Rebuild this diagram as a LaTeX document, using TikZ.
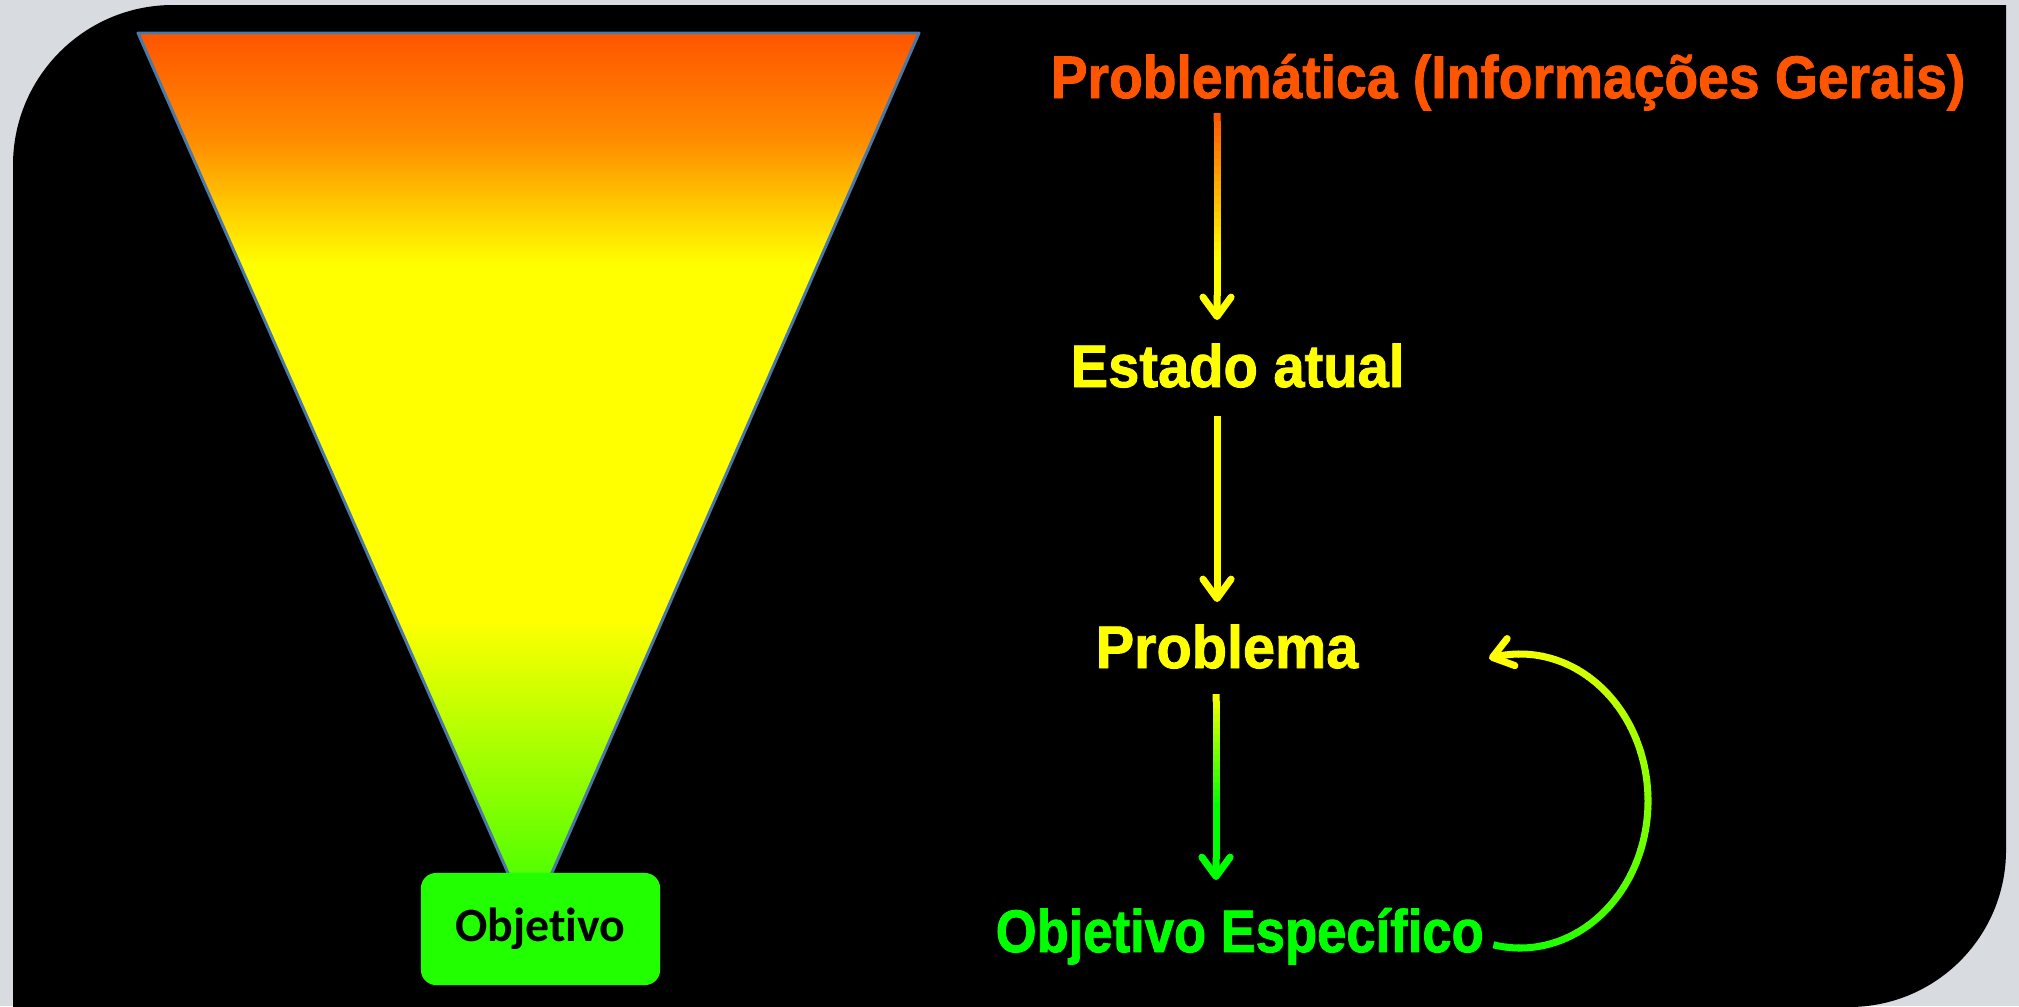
\documentclass[tikz,border=0pt]{standalone}
\usepackage{fontspec}
\newfontfamily\lsans{Liberation Sans}[BoldFeatures={FakeBold=1.5}]
\newfontfamily\carl{Carlito}
\usetikzlibrary{arrows.meta,calc}
\definecolor{bggray}{HTML}{D8DBDF}
\definecolor{orgT}{HTML}{FF5500}
\definecolor{midOr}{HTML}{FF8C00}
\definecolor{yelT}{HTML}{FFFF00}
\definecolor{grnT}{HTML}{00FF00}
\definecolor{boxG}{HTML}{22FF00}
\definecolor{triEdge}{HTML}{4A78A8}
\definecolor{triGreen}{HTML}{33FF00}
\pgfdeclareverticalshading{funnel}{100bp}{color(0bp)=(triGreen); color(25bp)=(triGreen); color(42bp)=(yelT); color(62bp)=(yelT); color(69bp)=(midOr); color(75bp)=(orgT); color(100bp)=(orgT)}
\tikzset{
  conn/.style={line width=2pt},
  tipped/.style={-{Straight Barb[length=5.5pt,width=8pt,round]}},
  bigtxt/.style={inner sep=0pt, anchor=base west, font=\lsans\bfseries\fontsize{17.07pt}{20pt}\selectfont},
  objbox/.style={fill=boxG, rounded corners=4.3pt, minimum width=2.39cm, minimum height=1.12cm, inner sep=0pt, text=black, font=\carl\bfseries\fontsize{13.6pt}{15pt}\selectfont}
}
% gradient straight connector: #1 from, #2 to, #3 start colour, #4 end colour, #5 fraction where end colour is reached
\newcommand\gradarrow[5]{%
  \foreach \k in {1,...,24}{%
    \pgfmathsetmacro\ta{0.88*(\k-1)/24}%
    \pgfmathsetmacro\tb{0.88*\k/24+0.005}%
    \pgfmathsetmacro\pc{min(100,100*0.88*(\k-0.5)/24/#5)}%
    \draw[conn, draw=#4!\pc!#3] ($(#1)!\ta!(#2)$) -- ($(#1)!\tb!(#2)$);
  }%
  \draw[conn, tipped, draw=#4] ($(#1)!0.88!(#2)$) -- (#2);
}
\begin{document}
\begin{tikzpicture}[x=0.01cm,y=-0.01cm]
\useasboundingbox (0,0) rectangle (2019,1006);
\fill[bggray] (0,0) rectangle (2019,1006);
% black panel
\fill[black] (13,1010) -- (13,165) arc[start angle=180, end angle=270, radius=160]
  -- (2006,5) -- (2006,850) arc[start angle=0, end angle=90, radius=157] -- cycle;
% funnel
\shadedraw[shading=funnel, draw=triEdge, line width=0.85pt, line join=round] (138,33) -- (919,33) -- (530,923) -- cycle;
% objective box
\node[objbox] (obj) at (540.5,929) {Objet\kern0pt ivo};
% texts
\node[bigtxt, text=orgT] (pg) at (1050,98) {\scalebox{0.92}[1]{Problemática (Informações Gerais)}};
\node[bigtxt, text=yelT] (ea) at (1070,387) {\scalebox{0.935}[1]{Estado atual}};
\node[bigtxt, text=yelT] (pb) at (1095,668) {\scalebox{0.96}[1]{Problema}};
\node[bigtxt, text=grnT] (oe) at (995,952) {\scalebox{0.876}[1]{Objetivo Específico}};
% connectors
\coordinate (a1s) at (1217,113);
\coordinate (a1e) at (1217,320);
\coordinate (a2s) at (1217,416);
\coordinate (a2e) at (1217,602);
\coordinate (a3s) at (1216,694);
\coordinate (a3e) at (1216,880);
\gradarrow{a1s}{a1e}{orgT}{yelT}{0.7}
\draw[conn, tipped, draw=yelT] (a2s) -- (a2e);
\gradarrow{a3s}{a3e}{yelT}{grnT}{0.6}
% loop back arrow from Objetivo Especifico to Problema
\coordinate (loopc) at (1520,801);
\foreach \k in {1,...,36}{%
  \pgfmathsetmacro\aa{102-198*(\k-1)/36}%
  \pgfmathsetmacro\ab{102-198*\k/36-0.4}%
  \pgfmathsetmacro\pc{100*(\k-0.5)/36}%
  \draw[conn, draw=yelT!\pc!grnT] ($(loopc)+(\aa:128 and 147)$) arc[start angle=\aa, end angle=\ab, x radius=128, y radius=147];
}
\draw[conn, tipped, draw=yelT] ($(loopc)+(-96:128 and 147)$) arc[start angle=-96, end angle=-104, x radius=128, y radius=147];
\end{tikzpicture}
\end{document}
